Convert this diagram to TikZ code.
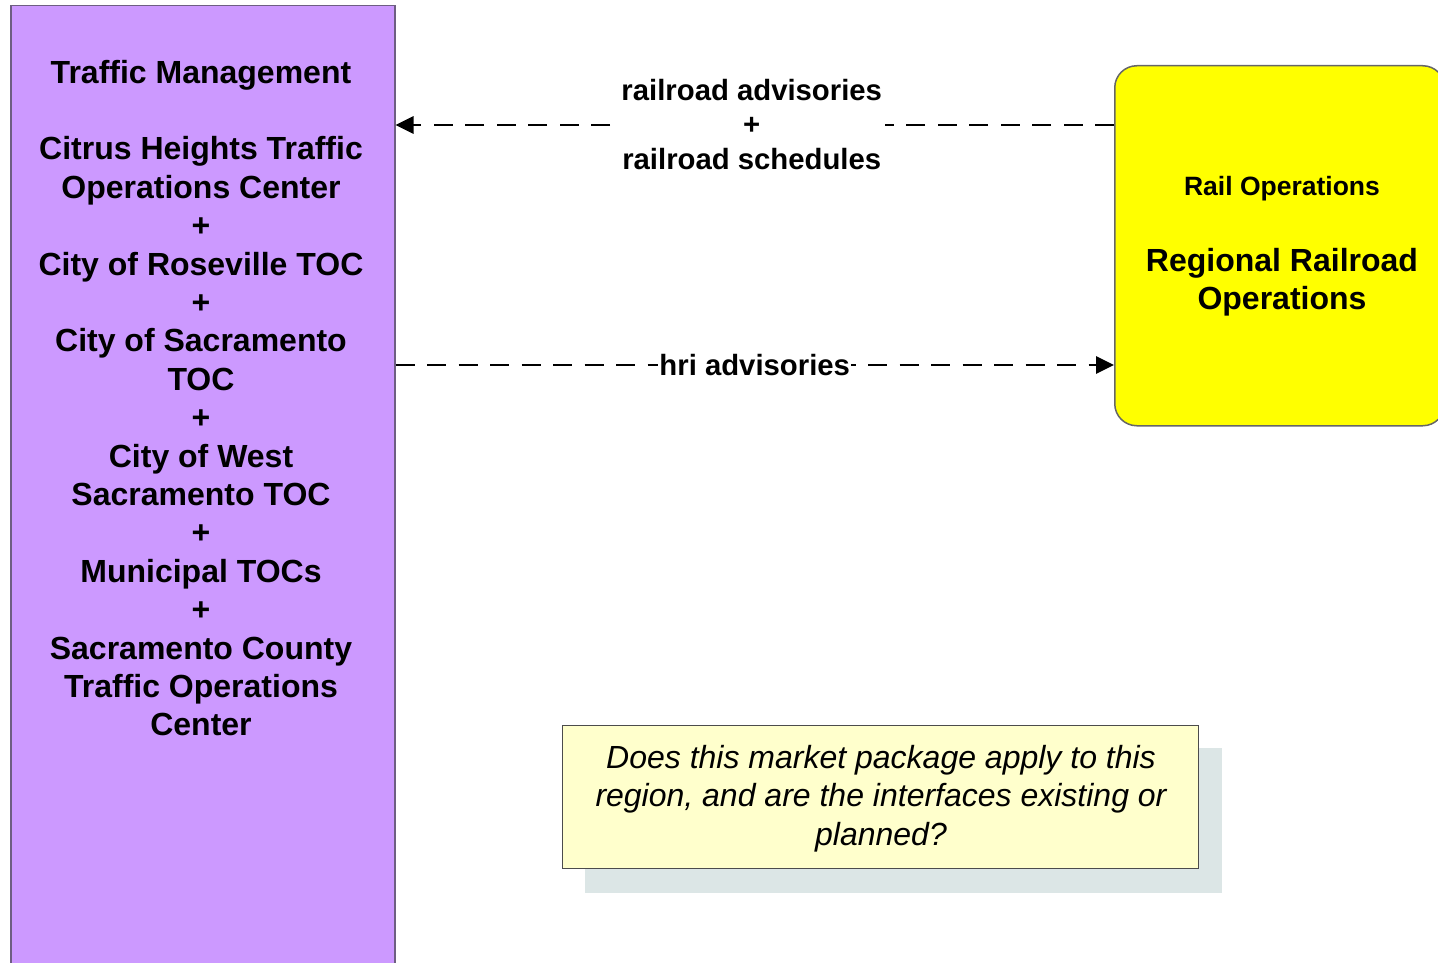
\documentclass[tikz,border=0pt]{standalone}
\usepackage{fontspec}
\setmainfont{Liberation Sans}
\usetikzlibrary{arrows.meta}
\definecolor{tmfill}{HTML}{CC99FF}
\definecolor{tmdraw}{HTML}{6E5E82}
\definecolor{rrfill}{HTML}{FFFF00}
\definecolor{notefill}{HTML}{FFFFCC}
\definecolor{shadowc}{HTML}{DCE6E6}
\tikzset{
  boxtm/.style={draw=tmdraw,fill=tmfill,line width=1.5pt,minimum width=384pt,minimum height=975pt,anchor=north west,inner sep=0pt},
  boxrr/.style={draw=black!60,fill=rrfill,line width=1.5pt,rounded corners=22pt,minimum width=330pt,minimum height=360pt,anchor=north west,inner sep=0pt},
  bigtxt/.style={font=\bfseries\fontsize{32}{38.4}\selectfont,align=center,inner sep=0pt},
  smalltxt/.style={font=\bfseries\fontsize{26.5}{30}\selectfont,align=center,inner sep=0pt},
  flowlabel/.style={font=\bfseries\fontsize{29.3}{34.5}\selectfont,align=center,fill=white,inner sep=3pt},
  flow/.style={line width=2.8pt,dash pattern=on 19pt off 12.5pt,-{Triangle[length=18pt,width=17pt]}},
  notebox/.style={draw=black!70,fill=notefill,line width=1.2pt,minimum width=636pt,minimum height=143pt,anchor=north west,inner sep=0pt},
  shadowbox/.style={fill=shadowc,minimum width=637pt,minimum height=145pt,anchor=north west,inner sep=0pt},
  notetxt/.style={font=\itshape\fontsize{32}{38.5}\selectfont,align=center,inner sep=0pt}
}
\begin{document}
\begin{tikzpicture}[x=1pt,y=-1pt]
\useasboundingbox (0,0) rectangle (1438,963);
\node[boxtm] (tm) at (10,5) {};
\node[bigtxt] (tmtext) at (201,398) {Traffic Management\\[38.4pt]
Citrus Heights Traffic\\Operations Center\\+\\City of Roseville TOC\\+\\City of Sacramento\\TOC\\+\\City of West\\Sacramento TOC\\+\\Municipal TOCs\\+\\Sacramento County\\Traffic Operations\\Center};
\node[boxrr] (rr) at (1114,65) {};
\node[smalltxt] (rrtitle) at (1282,189) {Rail Operations};
\node[bigtxt] (rrname) at (1282,282) {Regional Railroad\\Operations};
\coordinate (ytop) at (0,125);
\coordinate (ybot) at (0,365);
\draw[flow] (rr.west |- ytop) -- (tm.east |- ytop)
  node[flowlabel,midway,xshift=-3pt,yshift=0.5pt] (lbl1) {railroad advisories\\+\\railroad schedules};
\draw[flow] (tm.east |- ybot) -- (rr.west |- ybot)
  node[flowlabel,midway,inner xsep=1pt] (lbl2) {hri advisories};
\node[shadowbox] (shadow) at (585,748) {};
\node[notebox] (note) at (562,725) {};
\node[notetxt] (notetext) at (881,798.5) {Does this market package apply to this\\region, and are the interfaces existing or\\planned?};
\end{tikzpicture}
\end{document}
